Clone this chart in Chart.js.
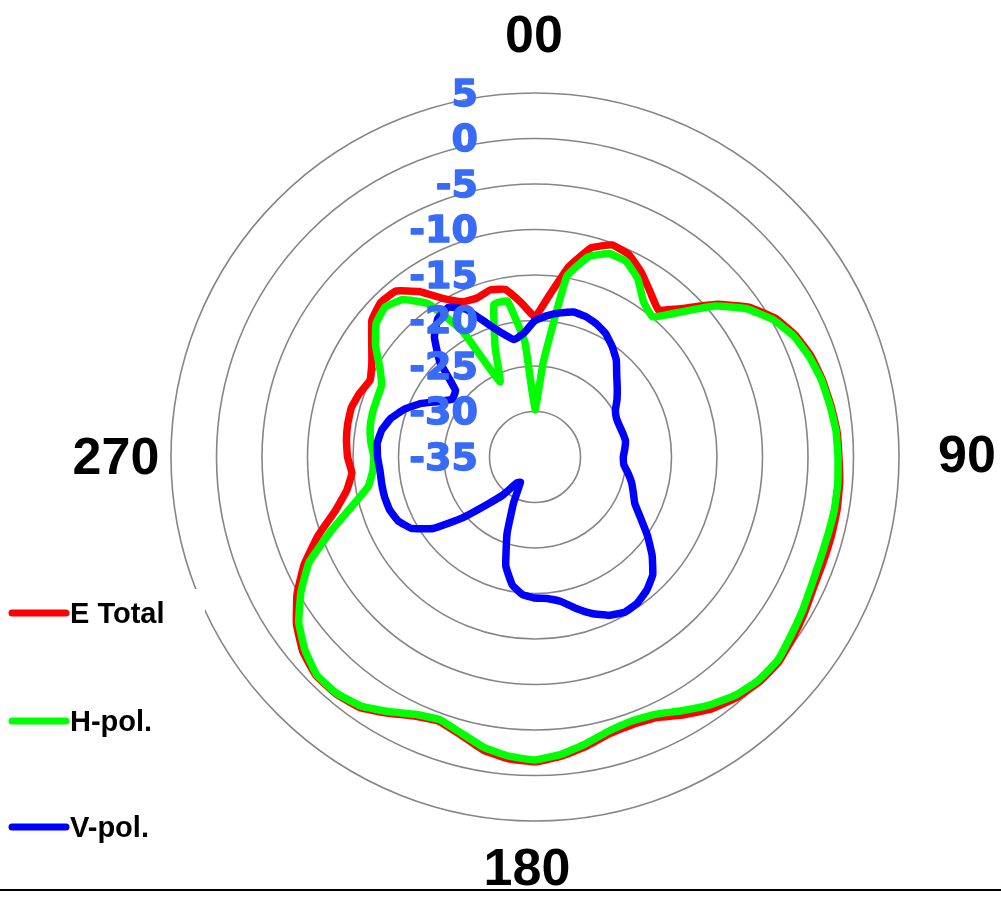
<!DOCTYPE html>
<html>
<head>
<meta charset="utf-8">
<script src="https://cdn.jsdelivr.net/npm/chart.js@4/dist/chart.umd.min.js"></script>
<style>
html,body{margin:0;padding:0;overflow:hidden;background:#ffffff;}
canvas{display:block;}
</style>
</head>
<body>
<canvas id="c" width="1070" height="914"></canvas>
<script>
// ---- data ----
const ANGLES = [0,5,10,15,20,25,30,35,40,45,50,55,60,65,70,75,80,85,
  90,95,100,105,110,115,120,125,130,135,140,145,150,155,160,165,170,175,
  180,185,190,195,200,205,210,215,220,225,230,235,240,245,250,255,260,265,
  270,275,280,285,290,295,300,305,310,315,320,325,330,335,340,345,350,355];

const E_TOTAL = [-19.6,-17.2,-13.8,-11.2,-10.2,-10.5,-11.6,-12.9,-13.9,-11.9,-8.9,-6.3,
  -4.5,-3.4,-2.7,-2.3,-2.0,-1.7,-1.6,-1.4,-1.3,-1.3,-1.3,-1.2,
  -0.8,-0.4,0.0,-0.1,-0.5,-1.2,-2.3,-3.4,-3.7,-3.5,-2.7,-2.0,
  -1.5,-1.7,-2.3,-3.4,-4.1,-3.6,-2.5,-1.4,-1.0,-1.0,-1.7,-3.0,
  -4.8,-7.0,-9.6,-12.3,-14.0,-14.8,-14.4,-14.2,-14.1,-14.1,-14.5,-15.0,
  -14.3,-13.1,-11.6,-11.0,-11.2,-12.8,-14.9,-16.2,-16.4,-16.0,-16.3,-18.0];

const H_POL = [-29.8,-24.5,-14.8,-12.2,-11.2,-11.3,-12.4,-14.2,-14.9,-12.5,-9.2,-6.6,
  -4.8,-3.6,-2.9,-2.4,-2.1,-1.8,-1.7,-1.6,-1.6,-1.7,-1.7,-1.5,
  -1.1,-0.7,-0.2,-0.3,-0.8,-1.7,-2.8,-3.8,-4.1,-3.8,-3.0,-2.2,
  -1.7,-2.0,-2.6,-3.6,-4.3,-3.8,-2.7,-1.6,-1.1,-1.1,-2.0,-3.3,
  -5.3,-7.6,-11.1,-14.2,-16.4,-17.1,-17.3,-16.9,-16.6,-16.5,-16.5,-16.4,
  -15.3,-13.6,-12.2,-11.7,-12.4,-14.4,-18.9,-25.9,-22.2,-17.6,-17.6,-22.4];

const V_POL = [-20.0,-19.4,-18.9,-18.5,-18.6,-18.9,-19.4,-20.2,-21.1,-22.3,-23.2,-24.0,
  -24.8,-25.1,-25.1,-25.0,-24.9,-25.1,-25.3,-25.2,-24.6,-24.0,-23.5,-22.9,
  -21.6,-19.9,-18.2,-16.7,-15.9,-15.4,-15.3,-15.8,-16.7,-17.8,-18.9,-19.4,
  -19.5,-19.8,-20.7,-22.6,-26.0,-29.4,-31.8,-31.5,-29.6,-27.7,-24.6,-21.3,
  -19.3,-18.4,-18.0,-17.9,-17.9,-17.9,-17.7,-17.6,-17.9,-18.6,-19.7,-21.1,
  -22.8,-23.9,-23.6,-20.2,-17.8,-16.4,-16.0,-17.1,-19.3,-20.9,-21.9,-21.3];

const SERIES_NAMES = ['E Total', 'H-pol.', 'V-pol.'];
const DIRECTION_LABELS = ['00', '90', '180', '270'];
const R_MIN = -35, R_MAX = 5, R_STEP = 5;

// ---- styles ----
const COLORS = ['#ff0000', '#00ff00', '#0000ff'];
const TICK_COLOR = '#386cf8';

const overlay = {
  id: 'overlay',
  afterDatasetsDraw(chart) {
    const s = chart.scales.r;
    const ctx = chart.ctx;
    const cx = s.xCenter, cy = s.yCenter;
    ctx.save();
    // radial tick labels (right aligned, left of the centre line)
    ctx.font = 'bold 38px "DejaVu Sans", Verdana, sans-serif';
    ctx.fillStyle = TICK_COLOR;
    ctx.strokeStyle = TICK_COLOR;
    ctx.lineWidth = 1.4;
    ctx.lineJoin = 'round';
    ctx.textAlign = 'right';
    ctx.textBaseline = 'middle';
    s.ticks.forEach(t => {
      const d = s.getDistanceFromCenterForValue(t.value);
      ctx.fillText(t.label, cx - 57, cy - d + 3);
      ctx.strokeText(t.label, cx - 57, cy - d + 3);
    });
    // direction labels
    ctx.font = 'bold 52px "Liberation Sans", Arial, sans-serif';
    ctx.fillStyle = '#000000';
    ctx.textAlign = 'center';
    ctx.textBaseline = 'alphabetic';
    const offs = [[-1, -405], [432, 15], [-8, 428], [-419, 17]];
    DIRECTION_LABELS.forEach((lab, i) => {
      ctx.fillText(lab, cx + offs[i][0], cy + offs[i][1]);
    });
    // legend
    const legendY = [613, 721, 827];
    chart.data.datasets.forEach((ds, i) => {
      const y = legendY[i];
      ctx.fillStyle = '#ffffff';
      ctx.fillRect(0, y - 24, 205, 48);
      ctx.strokeStyle = ds.borderColor;
      ctx.lineWidth = 7;
      ctx.lineCap = 'round';
      ctx.beginPath();
      ctx.moveTo(12, y);
      ctx.lineTo(66, y);
      ctx.stroke();
      ctx.fillStyle = '#000000';
      ctx.font = 'bold 29px "Liberation Sans", Arial, sans-serif';
      ctx.textAlign = 'left';
      ctx.textBaseline = 'alphabetic';
      ctx.fillText(ds.label, 70, y + 10);
    });
    // bottom rule
    ctx.fillStyle = '#000000';
    ctx.fillRect(0, 889, 1001, 2);
    ctx.restore();
  }
};

const mk = (i, data, order) => ({
  label: SERIES_NAMES[i],
  data: data,
  borderColor: COLORS[i],
  backgroundColor: COLORS[i],
  borderWidth: 7.5,
  pointRadius: 0,
  pointHoverRadius: 0,
  fill: false,
  tension: 0.1,
  borderJoinStyle: 'round',
  borderCapStyle: 'round',
  order: order
});

new Chart(document.getElementById('c'), {
  type: 'radar',
  data: {
    labels: ANGLES.map(String),
    datasets: [mk(0, E_TOTAL, 3), mk(1, H_POL, 2), mk(2, V_POL, 1)]
  },
  options: {
    responsive: false,
    animation: false,
    layout: { padding: { left: 171, right: 171, top: 93, bottom: 93 } },
    plugins: { legend: { display: false }, tooltip: { enabled: false } },
    scales: {
      r: {
        min: R_MIN,
        max: R_MAX,
        ticks: { stepSize: R_STEP, display: false },
        grid: { circular: true, color: '#858585', lineWidth: 1.6 },
        angleLines: { display: false },
        pointLabels: { display: false }
      }
    }
  },
  plugins: [overlay]
});
</script>
</body>
</html>
